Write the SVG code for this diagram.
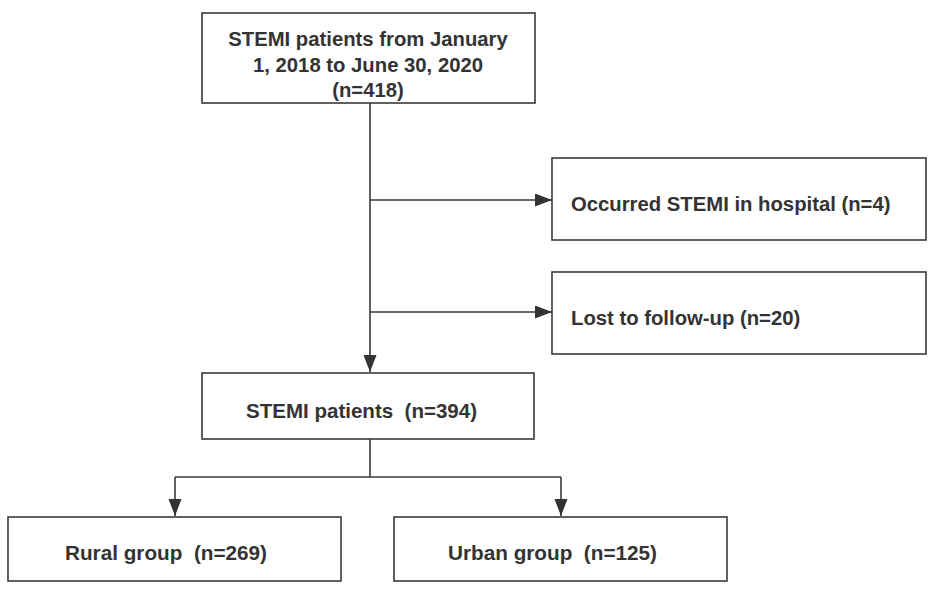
<svg xmlns="http://www.w3.org/2000/svg" width="931" height="593" viewBox="0 0 931 593">
<style>
.box{fill:#fff;stroke:#3a3a3a;stroke-width:1.6}
.t{font-family:"Liberation Sans",Arial,sans-serif;font-weight:bold;font-size:20.3px;fill:#333}
.b{font-size:21px}
.c{fill:none;stroke:#3a3a3a;stroke-width:1.6}
</style>
<defs>
<marker id="ah" markerUnits="userSpaceOnUse" markerWidth="18" markerHeight="14" refX="17" refY="6.5" orient="auto">
<path d="M0,0 L17,6.5 L0,13 z" fill="#333"/>
</marker>
</defs>
<rect width="931" height="593" fill="#fff"/>
<g id="connectors">
<path class="c" d="M370,103 V372" marker-end="url(#ah)"/>
<path class="c" d="M370,200 H552" marker-end="url(#ah)"/>
<path class="c" d="M370,312 H552" marker-end="url(#ah)"/>
<path class="c" d="M370,439 V477"/>
<path class="c" d="M175,477 H561"/>
<path class="c" d="M175,477 V516" marker-end="url(#ah)"/>
<path class="c" d="M561,477 V516" marker-end="url(#ah)"/>
</g>
<g id="n_all">
<rect class="box" x="202" y="13" width="333" height="90"/>
<text class="t" text-anchor="middle" x="368" y="46">STEMI patients from January</text>
<text class="t" text-anchor="middle" x="368" y="72">1, 2018 to June 30, 2020</text>
<text class="t" text-anchor="middle" x="368" y="97">(n=418)</text>
</g>
<g id="n_inhosp">
<rect class="box" x="552" y="158" width="374" height="82"/>
<text class="t" x="571" y="211">Occurred STEMI in hospital (n=4)</text>
</g>
<g id="n_lost">
<rect class="box" x="552" y="272" width="374" height="82"/>
<text class="t" x="571" y="325">Lost to follow-up (n=20)</text>
</g>
<g id="n_394">
<rect class="box" x="202" y="373" width="332" height="66"/>
<text class="t b" x="246" y="418" textLength="231" lengthAdjust="spacingAndGlyphs">STEMI patients&#160; (n=394)</text>
</g>
<g id="n_rural">
<rect class="box" x="8" y="517" width="333" height="64"/>
<text class="t b" x="65" y="560" textLength="202" lengthAdjust="spacingAndGlyphs">Rural group&#160; (n=269)</text>
</g>
<g id="n_urban">
<rect class="box" x="394" y="517" width="333" height="64"/>
<text class="t b" x="448" y="560" textLength="209" lengthAdjust="spacingAndGlyphs">Urban group&#160; (n=125)</text>
</g>
</svg>
